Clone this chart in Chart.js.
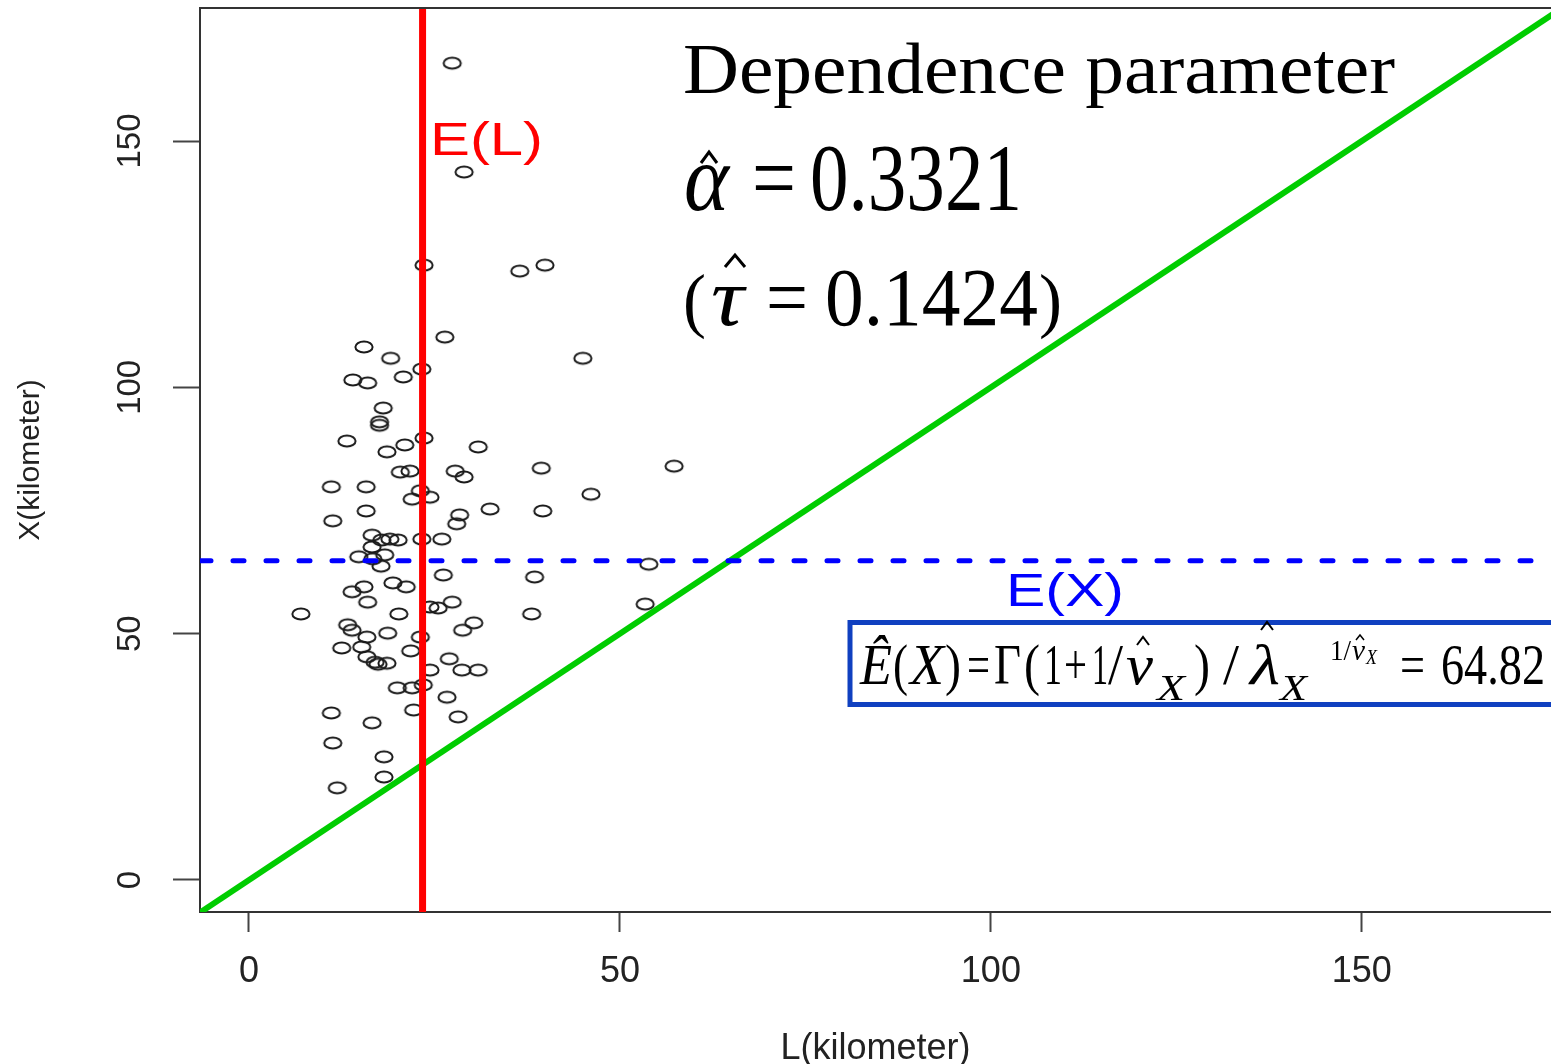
<!DOCTYPE html>
<html>
<head>
<meta charset="utf-8">
<script src="https://cdn.jsdelivr.net/npm/chart.js@4.4.1/dist/chart.umd.min.js"></script>
<style>
  html, body { margin: 0; padding: 0; background: #fff; }
  #wrap { width: 1551px; height: 1064px; position: relative; }
</style>
</head>
<body>
<div id="wrap"><canvas id="chart"></canvas></div>
<script>
// L(kilometer) and X(kilometer) for each pair
const lValues = [27.4, 29.0, 23.6, 36.5, 39.9, 26.4, 45.0, 15.5, 19.1, 23.3,
                 14.0, 16.0, 20.8, 18.1, 17.6, 17.6, 13.2, 23.6, 21.0, 18.6,
                 30.9, 20.4, 21.7, 27.8, 29.0, 39.4, 57.3, 11.1, 15.8, 23.1,
                 22.0, 24.4, 46.1, 15.8, 11.3, 32.5, 39.6, 28.4, 28.0, 16.6,
                 17.9, 19.0, 20.1, 16.6, 23.3, 26.0, 14.8, 16.7, 18.3, 17.8,
                 26.2, 19.4, 21.2, 13.9, 15.5, 16.0, 27.4, 24.4, 25.5, 20.2,
                 7.0, 38.5, 38.1, 53.9, 53.4, 13.3, 13.9, 15.9, 18.7, 23.1,
                 28.8, 30.3, 12.5, 15.2, 21.8, 15.9, 17.0, 17.4, 18.6, 27.0,
                 24.4, 28.7, 30.9, 20.0, 22.0, 23.5, 26.7, 11.1, 22.2, 28.2,
                 16.6, 11.3, 18.2, 18.2, 11.9];
const xValues = [165.8, 143.7, 124.8, 123.6, 124.8, 110.2, 105.9, 108.2, 105.9, 103.7,
                 101.5, 100.9, 102.1, 95.8, 93.0, 92.3, 89.1, 89.7, 88.3, 86.9,
                 87.9, 82.8, 83.0, 83.0, 81.8, 83.6, 84.0, 79.8, 79.8, 79.0,
                 77.3, 77.7, 78.3, 74.9, 72.9, 75.3, 74.9, 74.1, 72.3, 70.0,
                 69.0, 69.2, 69.0, 67.6, 69.2, 69.2, 65.6, 65.2, 66.0, 63.7,
                 61.9, 60.3, 59.5, 58.5, 59.5, 56.4, 56.4, 55.4, 55.2, 54.0,
                 54.0, 61.5, 54.0, 64.1, 56.0, 51.8, 50.7, 49.3, 50.1, 49.3,
                 50.7, 52.2, 47.1, 47.3, 46.5, 45.3, 44.2, 43.8, 44.0, 44.9,
                 42.6, 42.6, 42.6, 39.0, 39.0, 39.6, 37.1, 33.9, 34.5, 33.1,
                 31.9, 27.8, 25.0, 20.9, 18.7];

const meanL = 23.4;     // E(L)
const meanX = 64.82;    // E(X)
const alphaHat = '0.3321';
const tauHat = '0.1424';

const xTicks = [0, 50, 100, 150];
const yTicks = [0, 50, 100, 150];
const xMin = -6.6, xMax = 175.5;
const yMin = -6.5, yMax = 177;

const SANS = '"Liberation Sans", Arial, sans-serif';
const SERIF = '"Liberation Serif", "Times New Roman", serif';

// open elliptic marker, like the stretched R "o"
const marker = document.createElement('canvas');
marker.width = 24;
marker.height = 18;
const mc = marker.getContext('2d');
mc.strokeStyle = '#1a1a1a';
mc.lineWidth = 2;
mc.beginPath();
mc.ellipse(12, 9, 8.6, 5.6, 0, 0, Math.PI * 2);
mc.stroke();

const points = lValues.map((l, i) => ({ x: l, y: xValues[i] }));

// draw a string with its left edge at x, horizontally fitted to width
function fitText(ctx, str, x, y, font, width, color) {
    ctx.save();
    ctx.font = font;
    ctx.fillStyle = color || '#000';
    ctx.textAlign = 'left';
    ctx.textBaseline = 'alphabetic';
    const w = ctx.measureText(str).width;
    ctx.translate(x, y);
    if (width) ctx.scale(width / w, 1);
    ctx.fillText(str, 0, 0);
    ctx.restore();
}

function hat(ctx, cx, top, w, h, lw) {
    ctx.save();
    ctx.strokeStyle = '#000';
    ctx.lineWidth = lw;
    ctx.beginPath();
    ctx.moveTo(cx - w / 2, top + h);
    ctx.lineTo(cx, top);
    ctx.lineTo(cx + w / 2, top + h);
    ctx.stroke();
    ctx.restore();
}

const overlay = {
    id: 'overlay',
    afterDatasetsDraw(chart) {
        const ctx = chart.ctx;
        const a = chart.chartArea;

        // top side of the plot box
        ctx.save();
        ctx.strokeStyle = '#333';
        ctx.lineWidth = 2;
        ctx.beginPath();
        ctx.moveTo(a.left, a.top);
        ctx.lineTo(a.right, a.top);
        ctx.stroke();
        ctx.restore();

        // line labels
        fitText(ctx, 'E(L)', 430, 155, '46px ' + SANS, 113, '#ff0000');
        fitText(ctx, 'E(X)', 1006, 606, '46px ' + SANS, 118, '#0000ff');

        // dependence parameter text
        fitText(ctx, 'Dependence parameter', 683, 93, '72px ' + SERIF, 712);
        fitText(ctx, 'α', 684, 210, 'italic 96px ' + SERIF, 45);
        hat(ctx, 709, 152, 16, 11, 3);
        fitText(ctx, '=', 752, 210, '96px ' + SERIF, 44);
        fitText(ctx, alphaHat, 810, 210, '96px ' + SERIF, 212);

        fitText(ctx, '(', 683, 324, '72px ' + SERIF, 23);
        fitText(ctx, 'τ', 711, 325, 'italic 82px ' + SERIF, 33);
        hat(ctx, 735, 255, 20, 12, 3);
        fitText(ctx, '=', 766, 325, '82px ' + SERIF, 42);
        fitText(ctx, tauHat, 825, 325, '82px ' + SERIF, 213);
        fitText(ctx, ')', 1039, 324, '72px ' + SERIF, 23);

        // formula box
        ctx.save();
        ctx.fillStyle = '#fff';
        ctx.strokeStyle = '#1040c0';
        ctx.lineWidth = 5;
        ctx.fillRect(850, 622.5, 800, 82);
        ctx.strokeRect(850, 622.5, 800, 82);
        ctx.restore();

        const base = 684, s = 56;
        const parts = [
            ['Ê', 860, 32, base, s, true],
            ['(', 893, 15, base, s, false],
            ['X', 910, 34, base, s, true],
            [')', 945, 16, base, s, false],
            ['=', 967, 23, base, s, false],
            ['Γ', 994, 27, base, s, false],
            ['(', 1024, 16, base, s, false],
            ['1', 1044, 18, base, s, false],
            ['+', 1064, 23, base, s, false],
            ['1', 1092, 16, base, s, false],
            ['/', 1108, 15, base, s, false],
            ['ν', 1126, 27, base, s, true],
            ['X', 1157, 28, 700, 36, true],
            [')', 1194, 16, base, s, false],
            ['/', 1223, 16, base, s, false],
            ['λ', 1250, 30, base, s, true],
            ['X', 1280, 27, 700, 36, true],
            ['1/', 1330, 21, 660, 30, false],
            ['ν', 1352, 13, 660, 30, true],
            ['X', 1366, 11, 664, 22, true],
            ['=', 1400, 25, base, s, false],
            ['64.82', 1441, 104, base, s, false]
        ];
        parts.forEach(p => {
            fitText(ctx, p[0], p[1], p[3], (p[5] ? 'italic ' : '') + p[4] + 'px ' + SERIF, p[2]);
        });
        hat(ctx, 1143, 637, 12, 8, 2);
        hat(ctx, 1267, 622, 12, 8, 2);
        hat(ctx, 1360, 635, 8, 5, 1.5);
    }
};

const ctx = document.getElementById('chart').getContext('2d');
new Chart(ctx, {
    type: 'scatter',
    data: {
        datasets: [
            {
                data: points,
                pointStyle: marker,
                pointRadius: 9,
                order: 4
            },
            {
                data: [{ x: xMin - 10, y: xMin - 10 }, { x: yMax + 10, y: yMax + 10 }],
                showLine: true,
                borderColor: '#00cd00',
                borderWidth: 6,
                pointRadius: 0,
                clip: 0,
                order: 3
            },
            {
                data: [{ x: meanL, y: yMin - 10 }, { x: meanL, y: yMax + 10 }],
                showLine: true,
                borderColor: '#ff0000',
                borderWidth: 7,
                pointRadius: 0,
                clip: 0,
                order: 1
            },
            {
                data: [{ x: xMin, y: meanX }, { x: xMax, y: meanX }],
                showLine: true,
                borderColor: '#0000ff',
                borderWidth: 5,
                borderDash: [11, 22],
                borderCapStyle: 'round',
                pointRadius: 0,
                clip: 0,
                order: 2
            }
        ]
    },
    options: {
        responsive: true,
        maintainAspectRatio: false,
        animation: false,
        layout: { autoPadding: false, padding: { top: 8, left: 0, right: 0, bottom: 0 } },
        plugins: {
            legend: { display: false },
            tooltip: { enabled: false }
        },
        scales: {
            x: {
                type: 'linear',
                min: xMin,
                max: xMax,
                afterFit: s => { s.height = 152; s.paddingLeft = 0; s.paddingRight = 0; },
                afterBuildTicks: s => { s.ticks = xTicks.map(v => ({ value: v })); },
                grid: { drawOnChartArea: false, tickLength: 20, tickWidth: 2, color: '#444' },
                border: { display: true, color: '#333', width: 2 },
                ticks: {
                    padding: 18,
                    color: '#222',
                    maxRotation: 0,
                    font: { family: SANS, size: 36 }
                },
                title: {
                    display: true,
                    text: 'L(kilometer)',
                    color: '#222',
                    font: { family: SANS, size: 36, lineHeight: 1 },
                    padding: { top: 0, bottom: -3 }
                }
            },
            y: {
                type: 'linear',
                min: yMin,
                max: yMax,
                afterFit: s => { s.width = 200; s.paddingTop = 0; s.paddingBottom = 0; },
                afterBuildTicks: s => { s.ticks = yTicks.map(v => ({ value: v })); },
                grid: { drawOnChartArea: false, tickLength: 27, tickWidth: 2, color: '#444' },
                border: { display: true, color: '#333', width: 2 },
                ticks: {
                    padding: 15,
                    color: '#222',
                    minRotation: 90,
                    maxRotation: 90,
                    crossAlign: 'center',
                    font: { family: SANS, size: 33 }
                },
                title: {
                    display: true,
                    text: 'X(kilometer)',
                    color: '#222',
                    font: { family: SANS, size: 30 },
                    padding: { top: 13, bottom: 0 }
                }
            }
        }
    },
    plugins: [overlay]
});
</script>
</body>
</html>
